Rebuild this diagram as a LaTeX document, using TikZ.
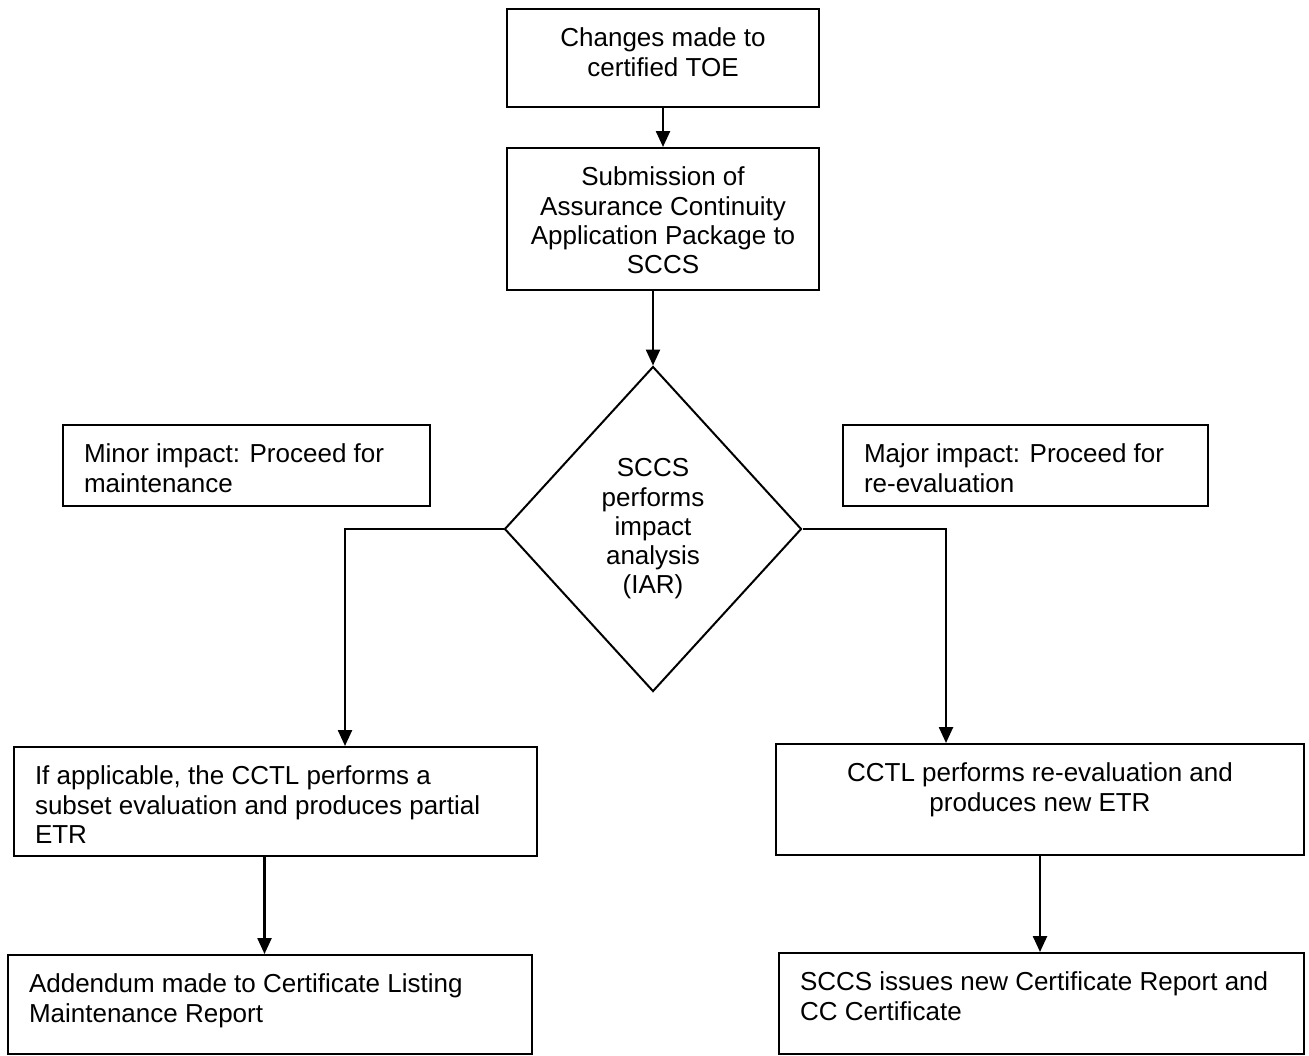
\documentclass[tikz,border=0pt]{standalone}
\usepackage{fontspec}
\setmainfont{Liberation Sans}
\usetikzlibrary{shapes.geometric,arrows.meta}

\tikzset{
  box/.style={draw, rectangle, line width=1pt, anchor=north west,
              inner xsep=10.5pt, inner ysep=9.5pt},
  lbox/.style 2 args={box,
              execute at begin node={\begin{minipage}[c][#2][t]{#1}\raggedright},
              execute at end node={\end{minipage}}},
  cbox/.style 2 args={box,
              execute at begin node={\begin{minipage}[c][#2][t]{#1}\centering},
              execute at end node={\end{minipage}}},
  arr/.style={-{Triangle[length=8pt,width=7pt]}, line width=1.2pt},
  every node/.style={font=\fontsize{13}{14.6}\selectfont}
}

\begin{document}
\begin{tikzpicture}[x=0.5pt,y=-0.5pt]
\useasboundingbox (0,0) rectangle (1309,1055);

\node[cbox={135pt}{30pt}] (chg) at (506,8) {Changes made to\\certified TOE};
\node[cbox={135pt}{52pt}] (sub) at (506,147) {Submission of\\Assurance Continuity\\Application Package to\\SCCS};
\node[draw, diamond, line width=1pt, minimum width=148.5pt, minimum height=162.5pt,
      inner sep=0pt, align=center] (iar) at (653,529) {SCCS\\performs\\impact\\analysis\\(IAR)};

\node[lbox={162.5pt}{21.5pt}] (minor) at (62,424) {Minor impact: Proceed for\\maintenance};
\node[lbox={161.5pt}{21.5pt}] (major) at (842,424) {Major impact: Proceed for\\re-evaluation};

\node[lbox={240.5pt}{35.5pt}] (subset) at (13,746) {If applicable, the CCTL performs a\\subset evaluation and produces partial\\ETR};
\node[cbox={243pt}{36.5pt}] (reeval) at (775,743) {CCTL performs re-evaluation and\\produces new ETR};
\node[lbox={241pt}{30.5pt}] (addendum) at (7,954) {Addendum made to Certificate Listing\\Maintenance Report};
\node[lbox={241.5pt}{31.5pt}] (newcert) at (778,952) {SCCS issues new Certificate Report and\\CC Certificate};

\coordinate (lft) at (345,529);
\coordinate (rgt) at (946,529);

\draw[arr] (chg.south) -- (sub.north);
\draw[arr] (iar.north |- sub.south) -- (iar.north);
\draw[arr] (iar.west) -- (lft) -- (lft |- subset.north);
\draw[arr] (iar.east) -- (rgt) -- (rgt |- reeval.north);
\draw[arr] ([xshift=-5.5pt]subset.south) -- ([xshift=-5.5pt]subset.south |- addendum.north);
\draw[arr] (reeval.south) -- (reeval.south |- newcert.north);
\end{tikzpicture}
\end{document}
